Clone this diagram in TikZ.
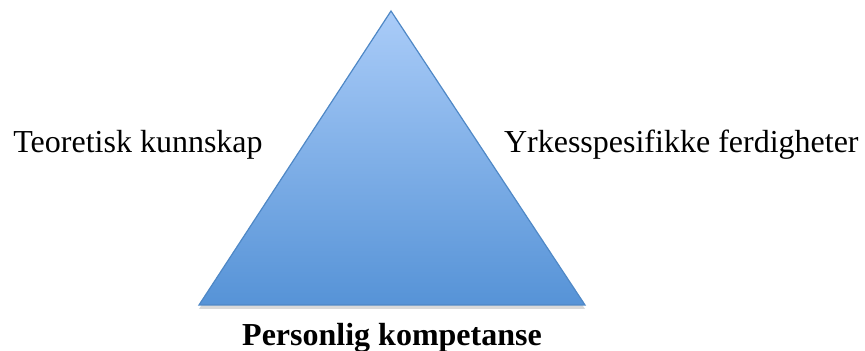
\documentclass[tikz,border=0pt]{standalone}
\usepackage{fontspec}
\setmainfont{Liberation Serif}
\usetikzlibrary{shadows}
\definecolor{triTop}{HTML}{AACCF8}
\definecolor{triBottom}{HTML}{5693D7}
\definecolor{triLine}{HTML}{4F88C6}
\tikzset{
  sidetext/.style={inner sep=0pt,font=\rmfamily\fontsize{16}{19}\selectfont},
  pyramid/.style={draw=triLine,line width=0.6pt,top color=triTop,bottom color=triBottom,
    drop shadow={shadow xshift=0pt,shadow yshift=-2pt,opacity=0.25,fill=black!60}}
}
\begin{document}
\begin{tikzpicture}[x=0.5pt,y=-0.5pt]
\useasboundingbox (0,0) rectangle (865,351);
% triangle
\coordinate (top) at (391,11);
\coordinate (left) at (199,305);
\coordinate (right) at (585,305);
\path[pyramid] (top) -- (right) -- (left) -- cycle;
% texts
\node[sidetext,anchor=base west] (theory) at (13,153) {Teoretisk kunnskap};
\node[sidetext,anchor=base east] (skills) at (859,153) {Yrkesspesifikke ferdigheter};
\node[sidetext,anchor=base,font=\rmfamily\bfseries\fontsize{16}{19}\selectfont] (personal) at (392,345) {Personlig kompetanse};
\end{tikzpicture}
\end{document}
